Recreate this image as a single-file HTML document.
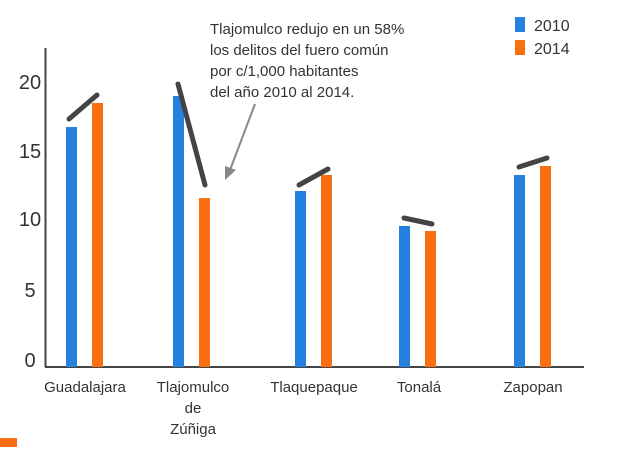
<!DOCTYPE html>
<html><head><meta charset="utf-8"><style>html,body{margin:0;padding:0;background:#fff}</style></head>
<body>
<svg width="644" height="447" xmlns="http://www.w3.org/2000/svg" font-family="Liberation Sans, sans-serif" fill="#333">
<line x1="45.5" y1="48" x2="45.5" y2="367" stroke="#444" stroke-width="2"/>
<line x1="45" y1="367" x2="584" y2="367" stroke="#444" stroke-width="2"/>
<g font-size="20" text-anchor="middle" fill="#333">
<text x="30" y="89">20</text><text x="30" y="158">15</text><text x="30" y="226">10</text><text x="30" y="297">5</text><text x="30" y="367">0</text>
</g>
<g fill="#2481e0">
<rect x="66" y="127" width="11" height="240"/>
<rect x="173" y="96" width="11" height="271"/>
<rect x="295" y="191" width="11" height="176"/>
<rect x="399" y="226" width="11" height="141"/>
<rect x="514" y="175" width="11" height="192"/>
<rect x="515" y="17" width="10" height="15"/>
</g>
<g fill="#fa6e12">
<rect x="92" y="103" width="11" height="264"/>
<rect x="199" y="198" width="11" height="169"/>
<rect x="321" y="175" width="11" height="192"/>
<rect x="425" y="231" width="11" height="136"/>
<rect x="540" y="166" width="11" height="201"/>
<rect x="515" y="40" width="10" height="15"/>
<rect x="0" y="438" width="17" height="9"/>
</g>
<g stroke="#444" stroke-width="5" stroke-linecap="round">
<line x1="69" y1="119" x2="97" y2="95"/>
<line x1="178" y1="84" x2="205" y2="185"/>
<line x1="299" y1="185" x2="328" y2="169"/>
<line x1="404" y1="218" x2="432" y2="224"/>
<line x1="519" y1="167" x2="547" y2="158"/>
</g>
<line x1="255" y1="104" x2="230" y2="170" stroke="#888" stroke-width="2"/>
<polygon points="225,180 225,166 236,170" fill="#888"/>
<g font-size="15" fill="#333">
<text x="210" y="34">Tlajomulco redujo en un 58%</text>
<text x="210" y="55">los delitos del fuero común</text>
<text x="210" y="76">por c/1,000 habitantes</text>
<text x="210" y="97">del año 2010 al 2014.</text>
<text x="534" y="31" font-size="16">2010</text>
<text x="534" y="54" font-size="16">2014</text>
</g>
<g font-size="15" text-anchor="middle" fill="#333">
<text x="85" y="392">Guadalajara</text>
<text x="193" y="392">Tlajomulco</text>
<text x="193" y="413">de</text>
<text x="193" y="434">Zúñiga</text>
<text x="314" y="392">Tlaquepaque</text>
<text x="419" y="392">Tonalá</text>
<text x="533" y="392">Zapopan</text>
</g>
</svg>
</body></html>
